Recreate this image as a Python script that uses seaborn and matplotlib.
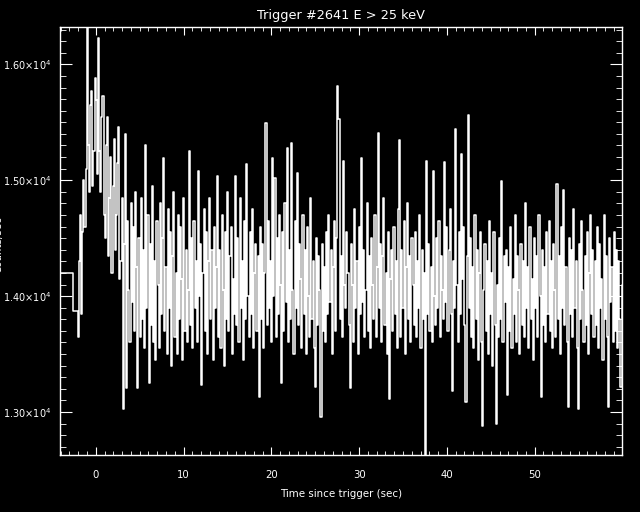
import numpy as np
import pandas as pd
import matplotlib
matplotlib.use('Agg')
import matplotlib.pyplot as plt
import seaborn as sns
from matplotlib.ticker import MultipleLocator, FuncFormatter

# Pre-trigger coarse bins (bin edges in sec, rate in counts/sec)
pre_edges = [-4.6, -2.58, -2.048]
pre_rate = [14200, 13870]

# Fine bins start at -2.048 s, 0.128 s wide
t_start = -2.048
bin_width = 0.128

# -2 .. 3 s : burst
rate_burst = [13650, 14300, 14700, 13850, 14550, 15000, 14600, 15100, 16400, 15300,
              14900, 15650, 15770, 14950, 15250, 15880, 15690, 15050, 16230, 15250,
              14900, 15550, 15730, 14700, 14500, 15300, 15550, 14350, 14850, 15200,
              14200, 14950, 15360, 14400, 14700, 15150, 15460, 14150, 14300, 14850]
# 3 .. 18.3 s
rate_seg1 = [13030, 14450, 15400, 13210, 14650, 14050, 13600, 14800, 13950, 14600,
             13700, 14900, 14250, 13210, 14500, 13650, 14850, 13800, 14400, 13550,
             15300, 13900, 14700, 13250, 14450, 13750, 14950, 13600, 14300, 13450,
             14650, 14100, 13550, 14800, 13850, 14500, 15190, 13700, 14250, 13500,
             14750, 13900, 14550, 13400, 14350, 14900, 13650, 14200, 13500, 14700,
             13800, 14600, 14150, 13450, 14850, 13700, 14400, 13600, 14050, 15250,
             13750, 14500, 13550, 14650, 13900, 14300, 13600, 15080, 14000, 14450,
             13230, 14200, 14750, 13700, 14550, 13500, 14300, 14850, 13800, 14400,
             13450, 14600, 13900, 14250, 15040, 13650, 14400, 13550, 14700, 14050,
             13400, 14550, 13800, 14900, 13700, 14350, 14600, 13500, 14150, 13850,
             15040, 13750, 14500, 13600, 14850, 13900, 14300, 13450, 14650, 13800,
             15140, 14000, 13650, 14550, 13850, 14750, 13550, 14200, 14450, 13700]
# 18.3 .. 33.6 s
rate_seg2 = [14350, 13130, 14600, 13800, 14450, 13550, 14200, 15490, 13750, 14650,
             13900, 14300, 13600, 15190, 14000, 15020, 13650, 14500, 13850, 14700,
             14100, 13250, 14550, 13700, 14800, 13950, 15280, 13600, 14400, 13800,
             15320, 14050, 13500, 14650, 13900, 15060, 13750, 14450, 14150, 13550,
             14700, 13850, 14400, 13500, 14600, 14000, 13650, 14850, 13800, 14300,
             13550, 13220, 14500, 13750, 14350, 14050, 12960, 14450, 13700, 14250,
             13600, 14550, 13850, 14700, 13950, 14400, 13500, 14250, 14650, 13700,
             14500, 15810, 15530, 13800, 14350, 13650, 15170, 14100, 13900, 14550,
             14200, 13750, 13210, 14450, 14100, 13600, 14750, 13900, 14300, 13500,
             14600, 13850, 15190, 13950, 14400, 13650, 14050, 14800, 13700, 14350,
             13550, 14500, 14100, 13800, 14700, 13650, 14250, 15410, 13900, 14450,
             13600, 14350, 14850, 13750, 14200, 13500, 14550, 13110, 14150, 14400]
# 33.6 .. 49 s
rate_seg3 = [13700, 14600, 13850, 14300, 13550, 14750, 15350, 13650, 14400, 13900,
             14650, 13500, 14250, 14800, 13800, 14350, 13600, 14500, 14100, 13750,
             14550, 13650, 14300, 13900, 14700, 13550, 14400, 13800, 14200, 12500,
             15170, 13850, 14450, 13700, 14250, 13600, 15080, 14000, 13750, 14500,
             13900, 14650, 13650, 14350, 14050, 13800, 15160, 13950, 14600, 13700,
             14400, 14750, 13850, 13180, 14300, 13900, 15440, 14100, 13600, 14550,
             13850, 15230, 14150, 14600, 13750, 13090, 14350, 15560, 13900, 14500,
             13650, 14250, 13550, 14700, 13800, 14400, 13450, 14200, 14550, 13600,
             12880, 14050, 14450, 13700, 14300, 13500, 14650, 13850, 14200, 13400,
             14550, 13750, 12900, 14100, 13650, 14500, 13800, 14990, 13600, 14350,
             13950, 14400, 13150, 14250, 13700, 14600, 13550, 14150, 13850, 14700,
             13600, 14350, 14050, 13500, 14450, 13750, 14300, 13650, 14800, 13900]
# 49 .. 60 s
rate_seg4 = [14250, 13550, 14600, 13800, 14150, 13450, 14500, 13900, 14350, 13650,
             14700, 14000, 13130, 14400, 13750, 14250, 13600, 14550, 13850, 14650,
             13700, 14300, 13550, 14450, 14050, 13650, 14970, 13800, 14350, 13500,
             14600, 13900, 14920, 13750, 14250, 13600, 13040, 14500, 13850, 14400,
             13650, 14750, 13900, 14300, 13550, 13030, 14450, 13800, 14650, 14050,
             13600, 14350, 13750, 14550, 13500, 14200, 14700, 13850, 14400, 13650,
             14300, 13750, 14600, 13550, 14450, 13900, 14150, 13450, 14700, 13800,
             14350, 13650, 13040, 14500, 13950, 14250, 13600, 14550, 13700, 14400,
             13550, 14300, 13800, 13220, 14100, 13700]

rate_fine = rate_burst + rate_seg1 + rate_seg2 + rate_seg3 + rate_seg4
fine_edges = t_start + bin_width * np.arange(len(rate_fine) + 1)

df = pd.DataFrame({
    'time': np.concatenate([pre_edges[:-1], fine_edges]),
    'rate': pre_rate + rate_fine + [rate_fine[-1]],
})

sns.set_style('ticks')
plt.rcParams['font.family'] = ['DejaVu Sans']

fig = plt.figure(figsize=(6.4, 5.12), dpi=100, facecolor='black')
ax = fig.add_axes([0.09375, 0.1113, 0.8781, 0.8359])
ax.set_facecolor('black')

sns.lineplot(data=df, x='time', y='rate', drawstyle='steps-post',
             estimator=None, sort=False, color='white', linewidth=1.1, ax=ax)

ax.set_xlim(-4.07, 59.95)
ax.set_ylim(12629, 16322)

ax.xaxis.set_major_locator(MultipleLocator(10))
ax.xaxis.set_minor_locator(MultipleLocator(1))
ax.yaxis.set_major_locator(MultipleLocator(1000))
ax.yaxis.set_minor_locator(MultipleLocator(100))
ax.yaxis.set_major_formatter(FuncFormatter(lambda v, p: f'{v / 1e4:.2f}×10$^{{4}}$'))

for s in ax.spines.values():
    s.set_color('white')
    s.set_linewidth(1.0)

ax.tick_params(which='both', direction='in', colors='white', top=True, right=True)
ax.tick_params(axis='x', which='major', length=6.1, pad=11, labelsize=7.3)
ax.tick_params(axis='x', which='minor', length=3.1)
ax.tick_params(axis='y', which='major', length=8.4, pad=6, labelsize=7)
ax.tick_params(axis='y', which='minor', length=4.1)

ax.set_title('Trigger #2641 E > 25 keV', color='white', fontsize=9.3, pad=6)
ax.set_xlabel('Time since trigger (sec)', color='white', fontsize=7.4, labelpad=6)
ax.set_ylabel('')
fig.text(3 / 640, 1 - 245 / 512, 'Counts/sec', color='white', fontsize=7.4,
         rotation=90, ha='right', va='center')

fig.savefig('out.png', dpi=100, facecolor='black')
